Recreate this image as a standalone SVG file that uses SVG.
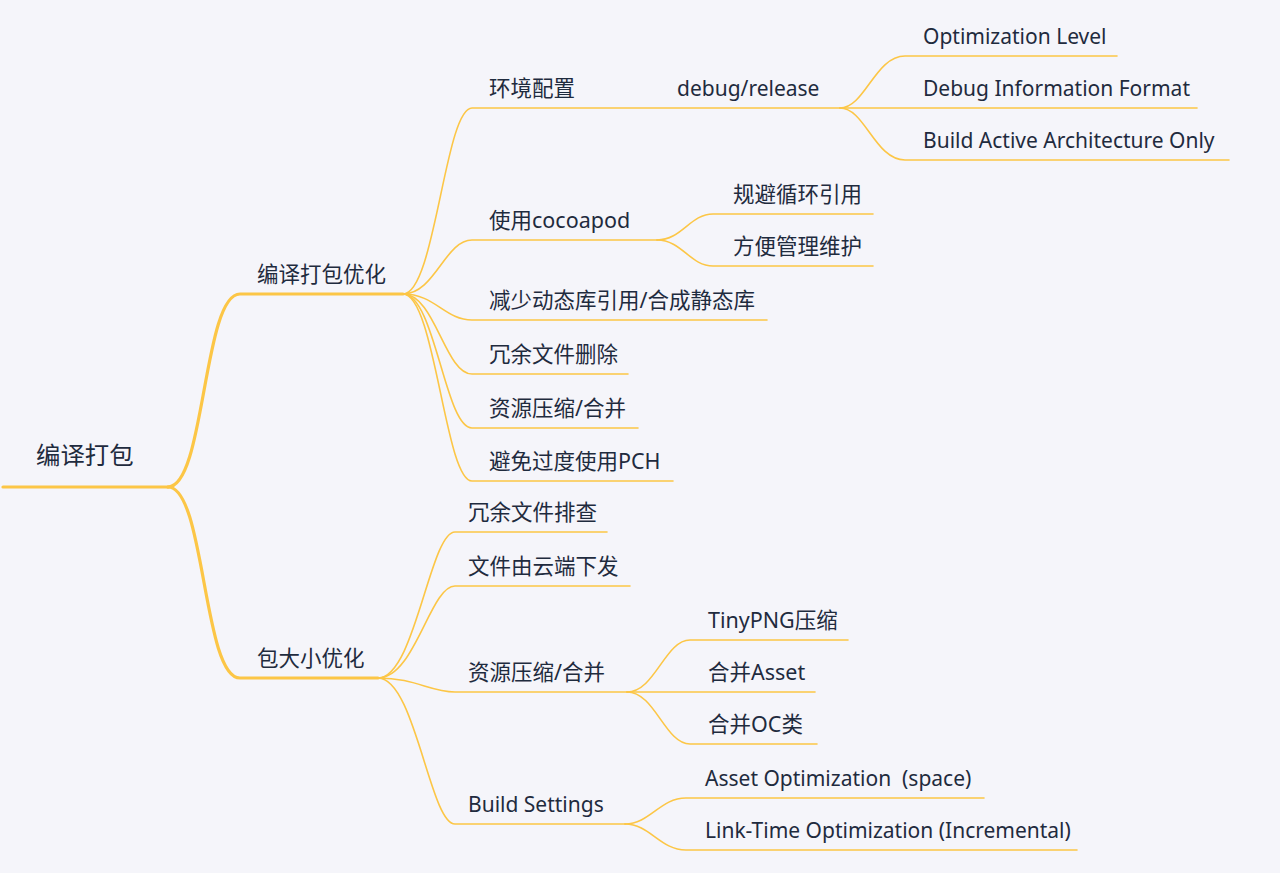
<svg xmlns="http://www.w3.org/2000/svg" width="1280" height="873" viewBox="0 0 1280 873">
<style>
text{font-family:"Noto Sans","Noto Sans CJK SC",sans-serif;fill:#1f2b3e;font-size:21px;white-space:pre}
text.z{font-size:21.5px}
text.root{font-size:24.4px}
.c{fill:none;stroke:#fcc646;stroke-width:1.6;stroke-linecap:round}
.t{stroke-width:3.2}
</style>
<rect width="1280" height="873" fill="#f5f5fa"/>
<g id="connectors">
<path class="c t" d="M3 487 H168"/>
<path class="c t" d="M168 487 C205 487 203 294 240 294 H403"/>
<path class="c t" d="M168 487 C205 487 203 678 240 678 H378"/>
<path class="c" d="M403 294 C435 294 445 108 472 108 H840"/>
<path class="c" d="M403 294 C435 294 445 240 472 240 H657"/>
<path class="c" d="M403 294 C435 294 445 320 472 320 H767"/>
<path class="c" d="M403 294 C435 294 445 374 472 374 H628"/>
<path class="c" d="M403 294 C435 294 445 428 472 428 H638"/>
<path class="c" d="M403 294 C435 294 445 481 472 481 H673"/>
<path class="c" d="M840 108 C865 108 875 56 905 56 H1117"/>
<path class="c" d="M840 108 H1197"/>
<path class="c" d="M840 108 C865 108 875 160 905 160 H1229"/>
<path class="c" d="M657 240 C682 240 690 214 713 214 H873"/>
<path class="c" d="M657 240 C682 240 690 266 713 266 H873"/>
<path class="c" d="M378 678 C415 678 430 532 455 532 H607"/>
<path class="c" d="M378 678 C415 678 430 586 455 586 H630"/>
<path class="c" d="M378 678 C415 678 430 692 455 692 H627"/>
<path class="c" d="M378 678 C415 678 430 824 455 824 H625"/>
<path class="c" d="M627 692 C655 692 665 640 690 640 H848"/>
<path class="c" d="M627 692 H815"/>
<path class="c" d="M627 692 C655 692 665 744 690 744 H817"/>
<path class="c" d="M625 824 C650 824 660 798 686 798 H984"/>
<path class="c" d="M625 824 C650 824 660 850 686 850 H1077"/>
</g>
<g id="n-root"><text class="root" x="36" y="464">编译打包</text></g>
<g id="n-build-opt"><text class="z" x="257" y="282">编译打包优化</text></g>
<g id="n-size-opt"><text class="z" x="257" y="666">包大小优化</text></g>
<g id="n-env"><text class="z" x="489" y="96">环境配置</text></g>
<g id="n-debug"><text x="677" y="96">debug/release</text></g>
<g id="n-optlevel"><text x="923" y="44">Optimization Level</text></g>
<g id="n-dif"><text x="923" y="96">Debug Information Format</text></g>
<g id="n-baao"><text x="923" y="148">Build Active Architecture Only</text></g>
<g id="n-cocoapod"><text class="z" x="489" y="228">使用cocoapod</text></g>
<g id="n-cycle"><text class="z" x="733" y="202">规避循环引用</text></g>
<g id="n-maint"><text class="z" x="733" y="254">方便管理维护</text></g>
<g id="n-dylib"><text class="z" x="489" y="308">减少动态库引用/合成静态库</text></g>
<g id="n-delete"><text class="z" x="489" y="362">冗余文件删除</text></g>
<g id="n-res1"><text class="z" x="489" y="416">资源压缩/合并</text></g>
<g id="n-pch"><text class="z" x="489" y="469">避免过度使用PCH</text></g>
<g id="n-check"><text class="z" x="468" y="520">冗余文件排查</text></g>
<g id="n-cloud"><text class="z" x="468" y="574">文件由云端下发</text></g>
<g id="n-res2"><text class="z" x="468" y="680">资源压缩/合并</text></g>
<g id="n-tiny"><text class="z" x="708" y="628">TinyPNG压缩</text></g>
<g id="n-asset"><text class="z" x="708" y="680">合并Asset</text></g>
<g id="n-oc"><text class="z" x="708" y="732">合并OC类</text></g>
<g id="n-bs"><text x="468" y="812">Build Settings</text></g>
<g id="n-aopt"><text x="705" y="786">Asset Optimization  (space)</text></g>
<g id="n-lto"><text x="705" y="838">Link-Time Optimization (Incremental)</text></g>
</svg>
